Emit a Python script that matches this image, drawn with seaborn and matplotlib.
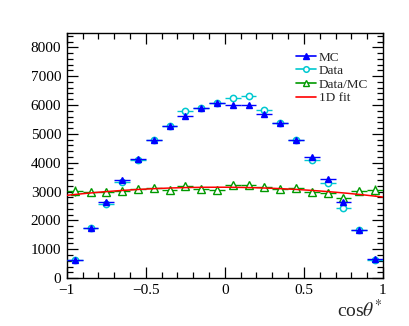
import matplotlib
matplotlib.use("Agg")
import matplotlib.pyplot as plt
import numpy as np
import pandas as pd
import seaborn as sns
from matplotlib.lines import Line2D
from matplotlib.ticker import MultipleLocator

# bins in cos(theta*)
bin_centers = [-0.95, -0.85, -0.75, -0.65, -0.55, -0.45, -0.35, -0.25, -0.15, -0.05,
               0.05, 0.15, 0.25, 0.35, 0.45, 0.55, 0.65, 0.75, 0.85, 0.95]
half_width = 0.05

mc_vals = [630, 1730, 2640, 3390, 4130, 4800, 5280, 5610, 5890, 6060,
           5990, 6000, 5690, 5360, 4800, 4200, 3440, 2640, 1660, 650]
mc_err = [25, 40, 50, 55, 60, 65, 70, 70, 75, 75,
          75, 75, 70, 70, 65, 60, 55, 50, 40, 25]

data_vals = [620, 1720, 2570, 3320, 4110, 4790, 5270, 5800, 5910, 6080,
             6260, 6300, 5830, 5370, 4780, 4080, 3300, 2420, 1650, 640]
data_err = [25, 40, 50, 55, 60, 65, 70, 75, 75, 75,
            75, 75, 75, 70, 65, 60, 55, 50, 40, 25]

ratio_vals = [3020, 2990, 2990, 3020, 3080, 3110, 3060, 3180, 3100, 3070,
              3220, 3240, 3160, 3080, 3120, 3000, 2960, 2770, 3020, 3040]
ratio_err = [180, 70, 60, 55, 50, 45, 45, 45, 45, 45,
             45, 45, 45, 45, 45, 50, 60, 110, 70, 175]

# 1D fit: p0 + p1*x + p2*x^2
fit_coeffs = [3150, -30, -310]

sns.set_theme(style="ticks")
plt.rcParams["font.family"] = ["Liberation Serif", "DejaVu Serif"]
plt.rcParams["mathtext.fontset"] = "stix"

fig = plt.figure(figsize=(4.1, 3.26), dpi=100)
ax = fig.add_axes([0.163, 0.147, 0.771, 0.752])

c_mc = "#0000ff"
c_data = "#00c8d0"
c_ratio = "#009900"
c_fit = "#ff0000"

x = np.array(bin_centers)

ax.errorbar(x, data_vals, xerr=half_width, yerr=data_err, fmt="o",
            color=c_data, mfc="white", mec=c_data, ms=4.5, mew=1.1,
            elinewidth=1.0, capsize=0, zorder=3)
ax.errorbar(x, mc_vals, xerr=half_width, yerr=mc_err, fmt="^",
            color=c_mc, mfc=c_mc, mec=c_mc, ms=4,
            elinewidth=1.0, capsize=0, zorder=4)
ax.errorbar(x, ratio_vals, xerr=half_width, yerr=ratio_err, fmt="^",
            color=c_ratio, mfc="white", mec=c_ratio, ms=6, mew=1.0,
            elinewidth=1.0, capsize=0, zorder=3)

fit_x = np.linspace(-1, 1, 200)
fit_df = pd.DataFrame({"x": fit_x, "y": np.polyval(fit_coeffs[::-1], fit_x)})
sns.lineplot(data=fit_df, x="x", y="y", color=c_fit, lw=1.1, ax=ax, zorder=5)

ax.set_xlim(-1, 1)
ax.set_ylim(0, 8500)
ax.xaxis.set_minor_locator(MultipleLocator(0.1))
ax.yaxis.set_major_locator(MultipleLocator(1000))
ax.yaxis.set_minor_locator(MultipleLocator(200))
ax.set_xticks([-1, -0.5, 0, 0.5, 1])
ax.set_xticklabels(["\u22121", "\u22120.5", "0", "0.5", "1"])
ax.tick_params(which="both", direction="in", top=True, right=True,
               labelsize=11, width=0.9, color="black", labelcolor="black")
ax.tick_params(which="major", length=8, pad=4)
ax.tick_params(which="minor", length=4)
for s in ax.spines.values():
    s.set_linewidth(1.0)
    s.set_color("black")

ax.set_xlabel("")
ax.set_ylabel("")
fig.text(0.934, 0.015, r"cos$\theta^{*}$", ha="right", va="bottom", fontsize=14)

handles = [
    Line2D([], [], color=c_mc, marker="^", ms=4, mfc=c_mc, lw=1.2),
    Line2D([], [], color=c_data, marker="o", ms=4, mfc="white", mew=1.1, lw=1.2),
    Line2D([], [], color=c_ratio, marker="^", ms=5, mfc="white", lw=1.2),
    Line2D([], [], color=c_fit, lw=1.2),
]
ax.legend(handles, ["MC", "Data", "Data/MC", "1D fit"],
          loc="upper left", bbox_to_anchor=(0.725, 0.925), frameon=False,
          fontsize=9.5, handlelength=1.5, handletextpad=0.25, labelspacing=0.1,
          borderpad=0, borderaxespad=0)

fig.savefig("out.png", dpi=100)
plt.close(fig)
